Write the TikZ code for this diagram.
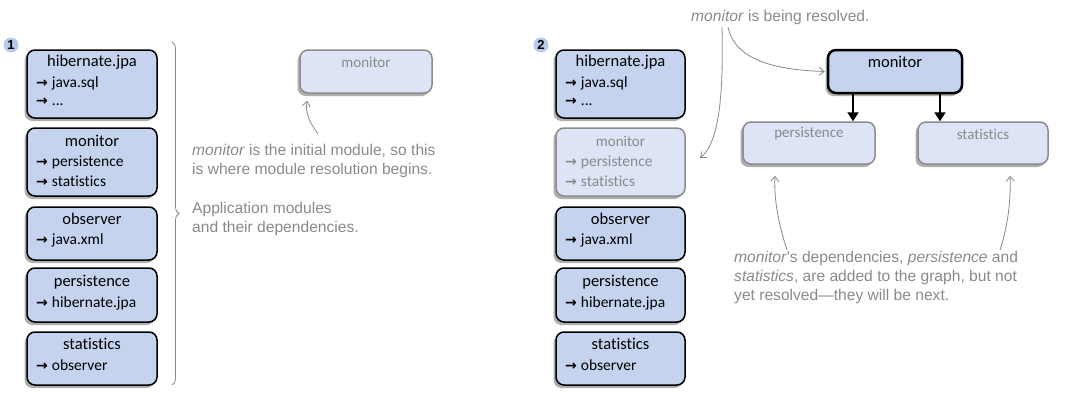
\documentclass[tikz,border=0pt]{standalone}
\usepackage{fontspec}
\setmainfont{Liberation Sans}
\newfontfamily\boxfont[Ligatures={NoCommon}]{Carlito}
\newfontfamily\arrfont{DejaVu Sans}
\usetikzlibrary{shadows,decorations.pathreplacing,arrows.meta,calc}
\definecolor{boxfill}{HTML}{C5D3EE}
\definecolor{fadefill}{HTML}{DCE4F5}
\definecolor{fadeborder}{HTML}{8C8C8C}
\definecolor{notegray}{HTML}{8A8A8A}
\definecolor{shadowgray}{HTML}{9A9A9A}
\definecolor{numfill}{HTML}{B9C9EC}
\newcommand{\depar}{{\arrfont\bfseries\fontsize{14}{16}\selectfont →}\hspace{4pt}}
\tikzset{
  modbox/.style={draw=black, line width=1.5pt, fill=boxfill, rounded corners=8pt,
    drop shadow={shadow xshift=-2.5pt, shadow yshift=-3pt, fill=shadowgray, opacity=0.8},
    inner sep=0pt},
  fadebox/.style={modbox, draw=fadeborder, fill=fadefill},
  activebox/.style={modbox, line width=2.5pt},
  boxtitle/.style={font=\boxfont\fontsize{16.5}{19}\selectfont, inner sep=0pt},
  fadetitle/.style={font=\boxfont\fontsize{15}{18}\selectfont, text=notegray, inner sep=0pt},
  boxitem/.style={font=\boxfont\fontsize{15.5}{18}\selectfont, inner sep=0pt, anchor=west},
  fadeitem/.style={boxitem, text=notegray},
  note/.style={font=\fontsize{15.6}{19}\selectfont, text=notegray, align=left, inner sep=0pt, anchor=north west},
  notearrow/.style={draw=notegray, line width=0.8pt, -{Straight Barb[length=5pt,width=8pt]}},
  deparrow/.style={draw=black, line width=2pt, -{Triangle[length=9pt,width=11pt]}},
  numcirc/.style={circle, fill=numfill, minimum size=15pt, inner sep=0pt, font=\bfseries\fontsize{13}{15}\selectfont},
}
\begin{document}
\begin{tikzpicture}[x=1pt,y=-1pt]
\useasboundingbox (0,0) rectangle (1080,402);

% ---------- Panel 1 ----------
\node[numcirc] (n1) at (11,45) {1};
\node[modbox, minimum width=130pt, minimum height=68pt] (hibA) at (92,84) {};
\node[boxtitle] (hibAt) at (92,62) {hibernate.jpa};
\node[boxitem] (hibAi1) at (36,83) {\depar java.sql};
\node[boxitem] (hibAi2) at (36,102) {\depar ...};

\node[modbox, minimum width=130pt, minimum height=68pt] (monA) at (92,162) {};
\node[boxtitle] (monAt) at (92,141) {monitor};
\node[boxitem] (monAi1) at (36,162) {\depar persistence};
\node[boxitem] (monAi2) at (36,181) {\depar statistics};

\node[modbox, minimum width=130pt, minimum height=53pt] (obsA) at (92,233.5) {};
\node[boxtitle] (obsAt) at (92,219) {observer};
\node[boxitem] (obsAi1) at (36,240) {\depar java.xml};

\node[modbox, minimum width=130pt, minimum height=54pt] (perA) at (92,295) {};
\node[boxtitle] (perAt) at (92,282) {persistence};
\node[boxitem] (perAi1) at (36,303) {\depar hibernate.jpa};

\node[modbox, minimum width=130pt, minimum height=53pt] (staA) at (92,358.5) {};
\node[boxtitle] (staAt) at (92,344) {statistics};
\node[boxitem] (staAi1) at (36,365) {\depar observer};

\coordinate (braceTop) at (172,42);
\coordinate (braceBot) at (172,385);
\draw[draw=notegray, line width=0.8pt, decorate, decoration={brace, amplitude=7pt}] (braceTop) -- (braceBot);

\node[fadebox, minimum width=132pt, minimum height=43pt] (monInit) at (366,71.5) {};
\node[fadetitle] (monInitt) at (366,62) {monitor};

\node[note] (noteA) at (192,144) {\textit{monitor} is the initial module, so this\\is where module resolution begins.};
\node[note] (noteB) at (192,202) {Application modules\\and their dependencies.};
\coordinate (noteAstart) at (318,134);
\draw[notearrow] (noteAstart) .. controls (309,122) and (305,112) .. ([xshift=8pt,yshift=-7pt]monInit.south west);

% ---------- Panel 2 ----------
\node[numcirc] (n2) at (541,45) {2};
\node[modbox, minimum width=129pt, minimum height=68pt] (hibB) at (620.5,84) {};
\node[boxtitle] (hibBt) at (620.5,62) {hibernate.jpa};
\node[boxitem] (hibBi1) at (565,83) {\depar java.sql};
\node[boxitem] (hibBi2) at (565,102) {\depar ...};

\node[fadebox, minimum width=129pt, minimum height=68pt] (monB) at (620.5,162) {};
\node[fadetitle] (monBt) at (620.5,141) {monitor};
\node[fadeitem] (monBi1) at (565,162) {\depar persistence};
\node[fadeitem] (monBi2) at (565,181) {\depar statistics};

\node[modbox, minimum width=129pt, minimum height=53pt] (obsB) at (620.5,233.5) {};
\node[boxtitle] (obsBt) at (620.5,219) {observer};
\node[boxitem] (obsBi1) at (565,240) {\depar java.xml};

\node[modbox, minimum width=129pt, minimum height=54pt] (perB) at (620.5,295) {};
\node[boxtitle] (perBt) at (620.5,282) {persistence};
\node[boxitem] (perBi1) at (565,303) {\depar hibernate.jpa};

\node[modbox, minimum width=129pt, minimum height=53pt] (staB) at (620.5,358.5) {};
\node[boxtitle] (staBt) at (620.5,344) {statistics};
\node[boxitem] (staBi1) at (565,365) {\depar observer};

\node[activebox, minimum width=134pt, minimum height=43pt] (monR) at (895,71.5) {};
\node[boxtitle] (monRt) at (895,62) {monitor};
\node[fadebox, minimum width=132pt, minimum height=42pt] (persG) at (809,143) {};
\node[fadetitle] (persGt) at (809,134) {persistence};
\node[fadebox, minimum width=130pt, minimum height=42pt] (statG) at (983,143) {};
\node[fadetitle] (statGt) at (983,134) {statistics};

\draw[deparrow] ([xshift=-42pt]monR.south) -- ([xshift=-42pt]monR.south |- persG.north);
\draw[deparrow] ([xshift=45pt]monR.south) -- ([xshift=45pt]monR.south |- statG.north);

\node[note, anchor=west] (noteC) at (691,17) {\textit{monitor} is being resolved.};
\coordinate (cA) at (722,27);
\coordinate (cB) at (728,27);
\coordinate (cAend) at (700,158);
\draw[notearrow] (cA) .. controls (724,110) and (716,145) .. (cAend);
\draw[notearrow] (cB) .. controls (735,62) and (780,70) .. ([xshift=-2pt]monR.west);

\node[note] (noteD) at (734,251) {\textit{monitor}'s dependencies, \textit{persistence} and\\\textit{statistics}, are added to the graph, but not\\yet resolved---they will be next.};
\coordinate (dA) at (787,250);
\coordinate (dB) at (1000,250);
\draw[notearrow] (dA) .. controls (778,222) and (774,200) .. ([xshift=-34pt,yshift=-11pt]persG.south);
\draw[notearrow] (dB) .. controls (1008,225) and (1011,200) .. ([xshift=27pt,yshift=-11pt]statG.south);
\end{tikzpicture}
\end{document}
